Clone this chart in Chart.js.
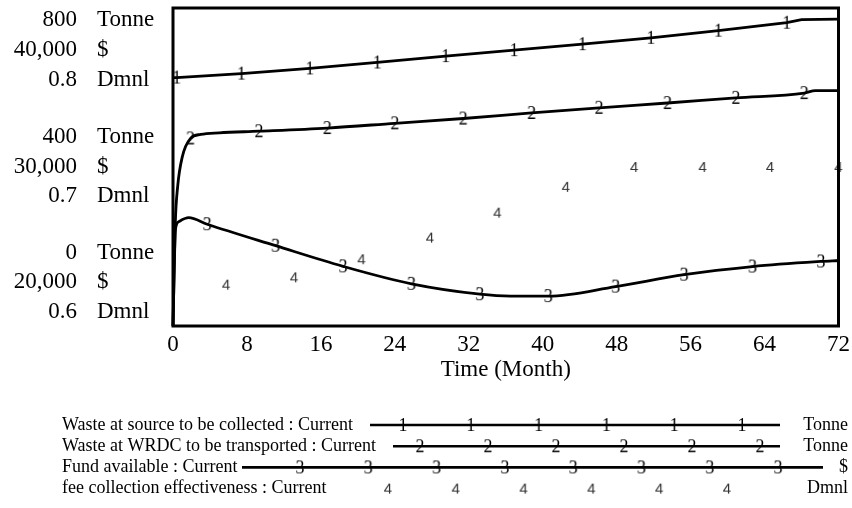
<!DOCTYPE html>
<html>
<head>
<meta charset="utf-8">
<script src="https://cdn.jsdelivr.net/npm/chart.js@4.4.0/dist/chart.umd.min.js"></script>
<style>
  body { margin: 0; background: #fff; }
</style>
</head>
<body>
<canvas id="canvas" width="852" height="508"></canvas>
<script>
// Waste at source to be collected (Tonne)
var sourceMonths = [0, 0.4, 7.4, 14.8, 22.1, 29.5, 36.9, 44.3, 51.7, 59, 66.4, 68, 72];
var sourceWaste  = [625, 625, 635, 648, 663, 679, 694, 709, 725, 743, 763, 771, 772];
var sourceMarks  = [0.4, 7.4, 14.8, 22.1, 29.5, 36.9, 44.3, 51.7, 59, 66.4];

// Waste at WRDC to be transported (Tonne)
var wrdcMonths = [0, 0.25, 0.5, 1, 1.9, 3, 5, 9.3, 16.7, 24, 31.4, 38.8, 46.1, 53.5, 60.9, 68.3, 69.5, 72];
var wrdcWaste  = [0, 260, 350, 425, 472, 482, 486, 490, 498, 510, 522, 536, 549, 561, 574, 586, 592, 592];
var wrdcMarks  = [1.9, 9.3, 16.7, 24, 31.4, 38.8, 46.1, 53.5, 60.9, 68.3];

// Fund available ($)
var fundMonths = [0, 0.25, 0.6, 1.7, 3.7, 11.1, 18.4, 25.8, 33.2, 36.5, 40.6, 47.9, 55.3, 62.7, 70.1, 72];
var fund       = [20000, 26000, 26550, 26810, 26400, 25050, 23750, 22650, 22000, 21880, 21880, 22480, 23230, 23740, 24060, 24120];
var fundMarks  = [3.7, 11.1, 18.4, 25.8, 33.2, 40.6, 47.9, 55.3, 62.7, 70.1];

// fee collection effectiveness (Dmnl)
var feeMonths = [5.75, 13.1, 20.4, 27.8, 35.1, 42.5, 49.9, 57.3, 64.6, 72];
var feeEff    = [0.626, 0.6306, 0.642, 0.6556, 0.6713, 0.6875, 0.7, 0.7, 0.7, 0.7];

var tonneTicks  = ['800', '400', '0'];
var dollarTicks = ['40,000', '30,000', '20,000'];
var dmnlTicks   = ['0.8', '0.7', '0.6'];

var SERIF = '"Liberation Serif", "Times New Roman", serif';

function pts(xs, ys) {
  return xs.map(function (x, i) { return { x: x, y: ys[i] }; });
}

function digit(ch, font, color) {
  var c = document.createElement('canvas');
  c.width = 20; c.height = 24;
  var g = c.getContext('2d');
  g.font = font;
  g.fillStyle = color;
  g.textAlign = 'center';
  g.textBaseline = 'middle';
  g.fillText(ch, 10, 13);
  return c;
}

var mark1 = digit('1', '18px ' + SERIF, '#000');
var mark2 = digit('2', '18px ' + SERIF, '#000');
var mark3 = digit('3', '18px ' + SERIF, '#000');
var mark4 = digit('4', '15px "Liberation Sans", Arial, sans-serif', '#333');

function markerRadius(marks) {
  return function (c) { return c.raw && marks.indexOf(c.raw.x) >= 0 ? 6 : 0; };
}

// left side axis labels: three units per level, plus the frame
var axisLabels = {
  id: 'axisLabels',
  afterDraw: function (chart) {
    var ctx = chart.ctx, y = chart.scales.y;
    var levels = [800, 400, 0];
    var offsets = [[12, 42, 72], [-30, 0, 29], [-73, -44, -14]];
    ctx.save();
    ctx.font = '23px ' + SERIF;
    ctx.fillStyle = '#000';
    ctx.textBaseline = 'middle';
    levels.forEach(function (v, i) {
      var py = y.getPixelForValue(v);
      var nums = [tonneTicks[i], dollarTicks[i], dmnlTicks[i]];
      var units = ['Tonne', '$', 'Dmnl'];
      for (var k = 0; k < 3; k++) {
        ctx.textAlign = 'right';
        ctx.fillText(nums[k], 77, py + offsets[i][k]);
        ctx.textAlign = 'left';
        ctx.fillText(units[k], 97, py + offsets[i][k]);
      }
    });
    var a = chart.chartArea;
    ctx.lineWidth = 3;
    ctx.strokeStyle = '#000';
    ctx.strokeRect(a.left, a.top, a.right - a.left, a.bottom - a.top);
    ctx.restore();
  }
};

var legendRows = [
  { text: 'Waste at source to be collected : Current', unit: 'Tonne', mark: '1', from: 370, to: 780, first: 403, step: 67.8, count: 6 },
  { text: 'Waste at WRDC to be transported : Current', unit: 'Tonne', mark: '2', from: 393, to: 780, first: 420, step: 68, count: 6 },
  { text: 'Fund available : Current', unit: '$', mark: '3', from: 242, to: 823, first: 300, step: 68.3, count: 8 },
  { text: 'fee collection effectiveness : Current', unit: 'Dmnl', mark: '4', from: null, to: null, first: 388, step: 67.8, count: 6 }
];

var bottomLegend = {
  id: 'bottomLegend',
  afterDraw: function (chart) {
    var ctx = chart.ctx;
    ctx.save();
    legendRows.forEach(function (r, i) {
      var y = 425 + i * 21.2;
      ctx.font = '18px ' + SERIF;
      ctx.fillStyle = '#000';
      ctx.textBaseline = 'middle';
      ctx.textAlign = 'left';
      ctx.fillText(r.text, 62, y);
      ctx.textAlign = 'right';
      ctx.fillText(r.unit, 848, y);
      if (r.from !== null) {
        ctx.lineWidth = 2.6;
        ctx.strokeStyle = '#000';
        ctx.beginPath();
        ctx.moveTo(r.from, y);
        ctx.lineTo(r.to, y);
        ctx.stroke();
      }
      var img = { '1': mark1, '2': mark2, '3': mark3, '4': mark4 }[r.mark];
      for (var k = 0; k < r.count; k++) {
        var x = r.first + k * r.step;
        ctx.drawImage(img, x - 10, y - 12);
      }
    });
    ctx.restore();
  }
};

new Chart(document.getElementById('canvas').getContext('2d'), {
  type: 'line',
  data: {
    datasets: [
      { label: 'Waste at source to be collected', data: pts(sourceMonths, sourceWaste), yAxisID: 'y',
        borderColor: '#000', borderWidth: 2.8, tension: 0, clip: false,
        pointStyle: mark1, pointRadius: markerRadius(sourceMarks) },
      { label: 'Waste at WRDC to be transported', data: pts(wrdcMonths, wrdcWaste), yAxisID: 'y',
        borderColor: '#000', borderWidth: 2.8, cubicInterpolationMode: 'monotone', clip: false,
        pointStyle: mark2, pointRadius: markerRadius(wrdcMarks) },
      { label: 'Fund available', data: pts(fundMonths, fund), yAxisID: 'y2',
        borderColor: '#000', borderWidth: 2.8, cubicInterpolationMode: 'monotone', clip: false,
        pointStyle: mark3, pointRadius: markerRadius(fundMarks) },
      { label: 'fee collection effectiveness', data: pts(feeMonths, feeEff), yAxisID: 'y3',
        showLine: false, clip: false, pointStyle: mark4, pointRadius: 6 }
    ]
  },
  options: {
    responsive: false,
    animation: false,
    events: [],
    layout: { padding: { left: 173, right: 13, top: 8, bottom: 126.5 } },
    plugins: { legend: { display: false }, tooltip: { enabled: false } },
    scales: {
      x: {
        type: 'linear', min: 0, max: 72,
        afterFit: function (s) { s.height = 55.5; },
        grid: { display: true, drawOnChartArea: false, drawTicks: true, tickLength: 3, color: 'rgba(0,0,0,0)' },
        border: { display: false },
        ticks: { stepSize: 8, padding: 2, color: '#000', font: { family: SERIF, size: 23 } },
        title: { display: true, text: 'Time (Month)', color: '#000', padding: 0, font: { family: SERIF, size: 23, lineHeight: 1 } }
      },
      y:  { display: false, min: 0, max: 800 },
      y2: { display: false, min: 20000, max: 40000 },
      y3: { display: false, min: 0.6, max: 0.8 }
    }
  },
  plugins: [axisLabels, bottomLegend]
});
</script>
</body>
</html>
